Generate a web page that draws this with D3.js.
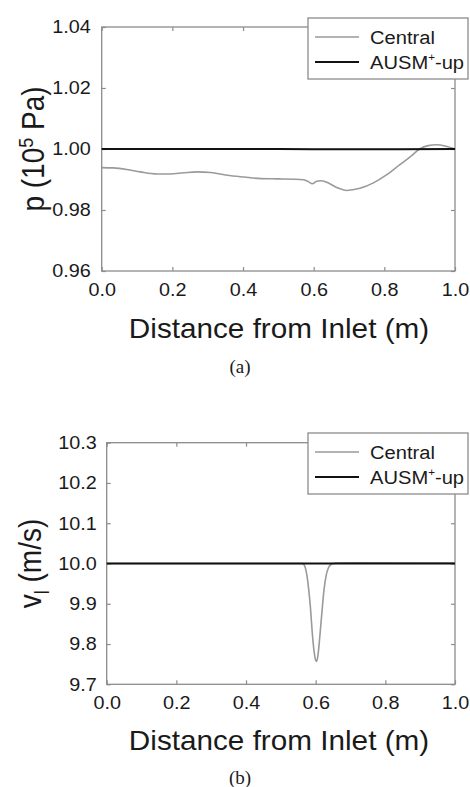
<!DOCTYPE html>
<html>
<head>
<meta charset="utf-8">
<script src="https://cdn.jsdelivr.net/npm/d3@7"></script>
<style>
  body { margin: 0; background: #fff; }
  text { font-family: Arial, "Liberation Sans", sans-serif; fill: #1a1a1a; }
  .caption { font-family: "Times New Roman", "Liberation Serif", serif; }
</style>
</head>
<body>
<script>
// panel (a): pressure
var pX = [0, 0.033, 0.071, 0.109, 0.156, 0.194, 0.232, 0.27, 0.308, 0.355, 0.403, 0.45, 0.498, 0.545,
          0.571, 0.585, 0.596, 0.608, 0.62, 0.637, 0.665, 0.693, 0.731, 0.769, 0.807, 0.844, 0.873,
          0.901, 0.924, 0.948, 0.972, 1.0];
var pCentral = [0.9939, 0.9938, 0.9933, 0.9925, 0.9918, 0.9918, 0.9922, 0.9925, 0.9923, 0.9914, 0.9908,
                0.9903, 0.9902, 0.9901, 0.9899, 0.9893, 0.9886, 0.9894, 0.9896, 0.9891, 0.9874, 0.9864,
                0.9871, 0.9889, 0.9916, 0.9949, 0.9974, 1.0001, 1.0011, 1.0014, 1.0010, 1.0000];
var pAusmX = [0, 0.5, 0.7, 0.75, 1.0];
var pAusm = [1.0, 1.0, 0.9999, 0.9999, 1.0];
var pTicksY = [0.96, 0.98, 1.00, 1.02, 1.04];

// panel (b): velocity
var vX = [0, 0.3, 0.56, 0.565, 0.57, 0.575, 0.58, 0.585, 0.59, 0.595, 0.6, 0.603, 0.607, 0.612, 0.618,
          0.624, 0.63, 0.637, 0.645, 0.655, 0.7, 1.0];
var vCentral = [10.0, 10.0, 10.0, 9.999, 9.99, 9.97, 9.935, 9.89, 9.83, 9.785, 9.76, 9.757, 9.775, 9.82,
                9.88, 9.935, 9.97, 9.99, 9.998, 10.001, 10.002, 10.001];
var vAusmX = [0, 1.0];
var vAusm = [10.0, 10.0];
var vTicksY = [9.7, 9.8, 9.9, 10.0, 10.1, 10.2, 10.3];

var xTicks = [0, 0.2, 0.4, 0.6, 0.8, 1.0];
var seriesNames = ["Central", "AUSM"];

var svg = d3.select("body").append("svg")
    .attr("width", 470)
    .attr("height", 787);

var frameColor = "#8c8c8c";
var sx = 1.1; // the scanned figure is a bit wider than it is tall

function drawPanel(cfg) {
    var x = d3.scaleLinear().domain([0, 1]).range([cfg.left, 455]);
    var y = d3.scaleLinear().domain(cfg.yDomain).range([cfg.bottom, cfg.top]);
    var g = svg.append("g");

    // frame
    g.append("rect")
        .attr("x", cfg.left).attr("y", cfg.top)
        .attr("width", 455 - cfg.left).attr("height", cfg.bottom - cfg.top)
        .attr("fill", "none").attr("stroke", frameColor).attr("stroke-width", 1.3);

    // axes with inward ticks
    var xAxis = d3.axisBottom(x).tickValues(xTicks).tickFormat(d3.format(".1f"))
        .tickSizeInner(-4).tickSizeOuter(0).tickPadding(12);
    var gx = g.append("g").attr("transform", "translate(0," + cfg.bottom + ")").call(xAxis);
    var yAxis = d3.axisLeft(y).tickValues(cfg.yTicks).tickFormat(d3.format(cfg.yFmt))
        .tickSizeInner(-4).tickSizeOuter(0).tickPadding(cfg.yPad);
    var gy = g.append("g").attr("transform", "translate(" + cfg.left + ",0)").call(yAxis);
    g.append("g").attr("transform", "translate(455,0)")
        .call(d3.axisRight(y).tickValues(cfg.yTicks).tickSizeInner(-4).tickSizeOuter(0).tickFormat(""));
    g.append("g").attr("transform", "translate(0," + cfg.top + ")")
        .call(d3.axisTop(x).tickValues(xTicks).tickSizeInner(-4).tickSizeOuter(0).tickFormat(""));
    g.selectAll(".domain").remove();
    g.selectAll(".tick line").attr("stroke", frameColor).attr("stroke-width", 1.2);
    g.selectAll(".tick text").style("font-size", "18px").attr("fill", "#1a1a1a")
        .attr("transform", "scale(" + sx + ",1)");
    gy.selectAll(".tick text").attr("x", -cfg.yPad / sx);

    var line = d3.line()
        .x(function (d) { return x(d[0]); })
        .y(function (d) { return y(d[1]); })
        .curve(d3.curveMonotoneX);

    g.append("path")
        .datum(d3.zip(cfg.cX, cfg.central))
        .attr("d", line).attr("fill", "none")
        .attr("stroke", "#9a9a9a").attr("stroke-width", 1.6);
    g.append("path")
        .datum(d3.zip(cfg.aX, cfg.ausm))
        .attr("d", line).attr("fill", "none")
        .attr("stroke", "#111").attr("stroke-width", 2);

    // x label
    g.append("text")
        .attr("transform", "translate(279," + cfg.xLabelY + ") scale(" + sx + ",1)")
        .attr("text-anchor", "middle")
        .style("font-size", "27px")
        .text("Distance from Inlet (m)");

    // y label
    var yl = g.append("text")
        .attr("transform", "translate(" + cfg.yLabelX + "," + ((cfg.top + cfg.bottom) / 2) + ") scale(" + sx + ",1) rotate(-90)")
        .attr("text-anchor", "middle")
        .style("font-size", "28px");
    cfg.yLabel(yl);

    // caption
    g.append("text").attr("class", "caption")
        .attr("x", 240).attr("y", cfg.captionY)
        .attr("text-anchor", "middle")
        .style("font-size", "19px")
        .text(cfg.caption);

    // legend
    var lg = g.append("g").attr("transform", "translate(308," + cfg.legendY + ")");
    lg.append("rect").attr("x", 0).attr("y", 0).attr("width", 160).attr("height", 61)
        .attr("fill", "#fff").attr("stroke", frameColor).attr("stroke-width", 1.3);
    seriesNames.forEach(function (name, i) {
        var yy = 19 + i * 25;
        lg.append("line").attr("x1", 7).attr("x2", 51).attr("y1", yy).attr("y2", yy)
            .attr("stroke", i === 0 ? "#9a9a9a" : "#111")
            .attr("stroke-width", i === 0 ? 1.6 : 2);
        var t = lg.append("text")
            .attr("transform", "translate(62," + (yy + 7) + ") scale(1.06,1)")
            .style("font-size", "19px");
        if (i === 0) {
            t.text(name);
        } else {
            t.append("tspan").text("AUSM");
            t.append("tspan").attr("dy", -8).style("font-size", "11px").text("+");
            t.append("tspan").attr("dy", 8).text("-up");
        }
    });
}

drawPanel({
    left: 101.7, top: 27, bottom: 271,
    yDomain: [0.96, 1.04], yTicks: pTicksY, yFmt: ".2f", yPad: 11,
    cX: pX, central: pCentral, aX: pAusmX, ausm: pAusm,
    xLabelY: 338, yLabelX: 44, captionY: 373, caption: "(a)", legendY: 18,
    yLabel: function (t) {
        t.append("tspan").text("p (10");
        t.append("tspan").attr("dy", -10).style("font-size", "18px").text("5");
        t.append("tspan").attr("dy", 10).text(" Pa)");
    }
});

drawPanel({
    left: 106.7, top: 442.7, bottom: 684.3,
    yDomain: [9.7, 10.3], yTicks: vTicksY, yFmt: ".1f", yPad: 10,
    cX: vX, central: vCentral, aX: vAusmX, ausm: vAusm,
    xLabelY: 750, yLabelX: 41, captionY: 784, caption: "(b)", legendY: 433,
    yLabel: function (t) {
        t.append("tspan").text("v");
        t.append("tspan").attr("dy", 7).style("font-size", "18px").text("l");
        t.append("tspan").attr("dy", -7).text(" (m/s)");
    }
});
</script>
</body>
</html>
